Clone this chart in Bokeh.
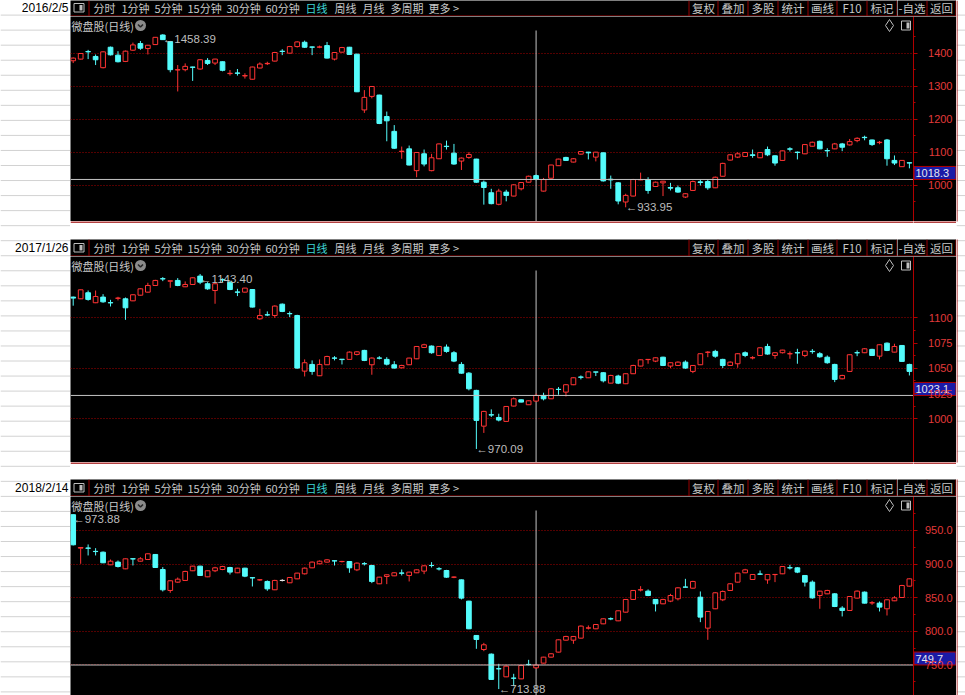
from bokeh.plotting import figure
from bokeh.layouts import row, column
from bokeh.models import Range1d, FixedTicker, Span, NumeralTickFormatter, ColumnDataSource
from bokeh.core.properties import value
from bokeh.embed import file_html
from bokeh.resources import INLINE

CJK = "Noto Sans CJK SC"
SANS = "Liberation Sans"

# ---------------- data ----------------
dates = ["2016/2/5", "2017/1/26", "2018/2/14"]
title_txt = "微盘股(日线)"

p1_o = [1378,1383,1406,1391,1357,1419,1395,1376,1410,1430,
        1415,1427,1456,1436,1350,1351,1359,1353,1379,1371,
        1375,1339,1341,1332,1322,1356,1369,1377,1407,1401,
        1421,1434,1420,1419,1424,1383,1404,1419,1398,1229,
        1270,1274,1209,1164,1103,1111,1045,1096,1045,1081,
        1119,1098,1074,1085,1080,1010,978,943,980,968,
        990,1010,1030,983,1022,1060,1085,1071,1095,1101,
        1086,1099,1019,1008,950,968,1017,1018,997,1008,
        994,993,965,985,1011,1012,993,1028,1077,1086,
        1088,1093,1084,1109,1090,1076,1111,1101,1096,1119,
        1134,1106,1111,1126,1123,1136,1146,1138,1130,1138,
        1076,1057,1069]
p1_h = [1388,1401,1411,1397,1407,1421,1407,1409,1433,1438,
        1426,1450,1458.39,1438,1365,1370,1360,1383,1386,1384,
        1376,1350,1353,1340,1360,1373,1375,1405,1413,1423,
        1437,1439,1421,1424,1435,1404,1420,1420,1399,1289,
        1301,1275,1224,1183,1118,1121,1101,1109,1096,1127,
        1136,1126,1085,1101,1081,1015,990,990,987,1004,
        1010,1030,1033,1023,1063,1081,1087,1083,1104,1102,
        1102,1100,1030,1010,975,1020,1039,1025,1012,1014,
        1008,1000,977,1015,1018,1018,1027,1069,1095,1101,
        1101,1109,1101,1118,1091,1106,1116,1103,1125,1133,
        1136,1113,1129,1129,1141,1146,1151,1139,1135,1141,
        1091,1077,1070]
p1_l = [1371,1382,1383,1365,1355,1394,1373,1374,1408,1411,
        1397,1426,1441,1343,1285,1346,1317,1351,1365,1365,
        1346,1333,1333,1324,1321,1355,1365,1376,1395,1400,
        1418,1417,1395,1416,1385,1379,1403,1396,1283,1220,
        1264,1186,1134,1111,1081,1061,1025,1058,1043,1080,
        1109,1063,1047,1081,1008,942,943,940,952,967,
        985,1009,1016,982,1021,1059,1075,1070,1093,1079,
        1073,1012,990,943,933.95,967,1016,975,996,968,
        985,978,962,984,1000,987,992,1027,1076,1083,
        1087,1084,1083,1089,1060,1075,1103,1079,1095,1118,
        1110,1087,1110,1104,1121,1131,1137,1120,1125,1060,
        1062,1056,1052]
p1_c = [1386,1400,1405,1381,1405,1396,1375,1407,1426,1416,
        1425,1449,1442,1351,1351,1361,1358,1381,1370,1383,
        1349,1340,1340,1333,1359,1368,1370,1403,1406,1421,
        1435,1419,1419,1420,1386,1403,1418,1397,1284,1267,
        1300,1188,1196,1113,1104,1062,1100,1065,1084,1126,
        1118,1065,1083,1094,1010,994,945,983,970,1002,
        1009,1028,1018.3,1018,1062,1080,1076,1081,1103,1099,
        1101,1014,1017,953,970,1018,1018,985,1010,1013,
        992,980,975,1012,1009,993,1025,1067,1093,1096,
        1100,1091,1100,1093,1068,1105,1110,1100,1124,1131,
        1111,1105,1126,1116,1133,1143,1145,1124,1131,1081,
        1068,1076,1068]

p2_o = [1120.5,1118.8,1124.8,1114.9,1120.5,1115,1119.3,1118.8,1116.8,1122.4,
        1125.4,1132,1138.7,1136.3,1137,1130.7,1133,1141.3,1133.7,1127,
        1138,1135.3,1125.6,1125.4,1128,1099,1103,1102.3,1113.5,1104.2,
        1102.3,1047.2,1053.8,1042.6,1053.5,1060.2,1059,1058.8,1063.7,1067.7,
        1053.5,1060.2,1058.8,1053.5,1050.5,1053.5,1059.4,1070.6,1072,1062.7,
        1071,1065.4,1053.8,1045.2,1028.1,992.7,1004,1001.3,997.4,1012.6,
        1018.8,1013.9,1017.5,1023.1,1019.8,1029.2,1026.4,1033.7,1041.4,1040.6,
        1046.4,1045.6,1035.3,1042.3,1034.7,1044.6,1052.2,1058.6,1057.1,1061,
        1052.2,1052.8,1056.1,1046.9,1053.5,1065.8,1066.7,1058.8,1052.8,1054.5,
        1065.4,1060.3,1062.7,1071.6,1062.7,1065.4,1064.3,1065.5,1062.7,1066.8,
        1064.4,1061,1053.8,1039.6,1046.9,1065.5,1065.4,1068.7,1062,1074.9,
        1066,1072.6,1053.8]
p2_h = [1121,1128,1127,1127,1123.4,1117.8,1120.8,1120.1,1123.1,1129.4,
        1134.7,1137.6,1140.3,1136.8,1139.3,1136,1140,1143.4,1135.3,1134,
        1139,1136,1128.7,1129.7,1128.4,1108.9,1106.3,1112.3,1114.2,1106.3,
        1103,1058.8,1057.8,1058.8,1062.4,1062,1059.2,1066.7,1067,1068.3,
        1060.8,1062,1061,1057.1,1053.5,1060.4,1072,1074.3,1072.6,1072,
        1073.6,1067,1056.1,1046.2,1028.7,1007.9,1009.3,1005,1012.6,1021.1,
        1019.2,1018.2,1024.8,1025.8,1030.4,1031.4,1034.3,1041,1042.9,1046.9,
        1046.5,1046.2,1043.6,1043.6,1044.9,1053.5,1058.8,1059,1060.8,1061.4,
        1055.8,1056.8,1057.8,1053.2,1064.7,1067,1068.3,1059.4,1056.8,1065.1,
        1066.7,1062,1070.6,1074.3,1065.7,1068.3,1066.7,1069.3,1067.3,1069,
        1066,1062.7,1054.5,1043.6,1063.7,1067.7,1070,1069.3,1073.6,1075.6,
        1074.3,1072.9,1054.5]
p2_l = [1112,1118.5,1117,1114.5,1114.9,1111.2,1117.2,1098,1116.5,1122,
        1125,1131.7,1136.3,1129.7,1131.3,1130.4,1132.7,1133.3,1127.7,1113.9,
        1135.3,1127.4,1121.5,1125,1110.2,1098,1101.7,1100,1105.6,1100.7,
        1049.5,1041.9,1043.6,1042.3,1053.2,1057.8,1053.8,1058.5,1062.7,1057.1,
        1043.6,1058.8,1052.8,1049.8,1049.8,1053.2,1059,1070,1064.4,1062.4,
        1065.4,1056.1,1044.6,1028.1,970.09,986,1001.7,997.4,997,1012.2,
        1016.2,1013.6,1017.2,1018.2,1019.5,1023.8,1022.1,1033.3,1039,1040.3,
        1042.3,1036,1035,1034.3,1034.3,1044.3,1051.9,1054.5,1056.1,1052.2,
        1050.2,1052.5,1049.5,1045.2,1053.2,1061,1060.4,1050.2,1052.5,1050.5,
        1061,1058.8,1062.4,1063.4,1059.4,1064.7,1059.4,1054.5,1061,1064.4,
        1060.4,1054.5,1036.3,1039,1046.6,1062,1065,1062.4,1058.8,1067,
        1065.7,1056.5,1042.9]
p2_c = [1119.5,1127.7,1118.2,1121.1,1115.8,1114.8,1119.5,1109.9,1122.8,1128.7,
        1132,1137,1138.5,1136.6,1132,1133,1139.6,1135.3,1128.7,1133.7,
        1137.5,1128,1125.3,1129.4,1110.6,1102.3,1102.8,1111.6,1106.3,1104,
        1050.2,1055.5,1046.9,1053.8,1061.7,1060,1058.6,1066,1066.3,1057.8,
        1060.1,1060,1054.1,1050.2,1052.8,1060.1,1071.6,1073.3,1065.4,1071.6,
        1066.7,1057.1,1045.2,1029.7,998.4,1007.3,1003.7,998.7,1012.2,1019.8,
        1016.5,1017.8,1023.1,1019.8,1029.7,1029,1033.7,1040.6,1041.1,1046.5,
        1046.2,1037.6,1042.9,1035.3,1044.6,1052.8,1058.4,1058.8,1060.4,1052.8,
        1055.5,1056.1,1050.2,1052.8,1064.4,1066,1062,1052.8,1056.1,1064.4,
        1062.7,1060.5,1070.3,1064.1,1065.4,1068,1064.5,1065.2,1067,1066.5,
        1061.4,1055.5,1039,1042.9,1063.4,1065.3,1069.3,1062.7,1073.3,1067.7,
        1071.6,1056.8,1046.9]

p3_o = [973.5,923.7,923.9,918.9,917.7,898.9,902.9,892.9,907.9,904.3,
        906.8,914.3,891.9,860.7,873.1,875.6,890,896.9,881,890,
        891.9,894.9,887,893.9,879.7,876.4,874.1,861.7,875.6,872.1,
        878,885.5,894.4,900.4,902.9,904.9,903.7,903.8,891.4,900.6,
        897.9,870.6,881.5,882.5,886.7,883,887,889.5,898,893,
        890.4,880.4,876.5,844.8,793.7,772.8,765.9,744.2,732.1,730.2,
        729.1,750.6,745.5,752.5,761.4,768.9,786.7,786.7,789.7,804.7,
        803.6,811,818.6,815.5,828.4,847.3,861.4,859.7,847.3,840.8,
        844.8,848.3,865.8,864.1,850.7,804.6,833.4,846.8,860.7,873.1,
        887,877,885.2,876.5,884.3,885.5,894.6,894.4,883,873.1,
        853.2,855.7,855.7,834.4,830.9,849.3,858.2,842.2,841.8,833.4,
        845.3,850.2,867.1]
p3_h = [973.88,925.2,929.2,923.7,918.7,906.8,905.3,908.3,908,910.3,
        915.8,914.8,895.4,875.6,880,890,897.4,897.4,890.5,895.9,
        897.4,895.9,894.4,894.4,880,877.5,875.6,876.6,877.5,880.5,
        887,894.9,903.8,905.3,907.3,905,904.8,904.3,902.4,902.9,
        898.9,881,884.5,887.5,891.9,888.5,891.9,897.9,902.9,895.4,
        891.4,881.5,877,845.3,794.2,782.7,766.9,751.5,749,736.6,
        750,757.4,750.5,761.9,767.4,787.7,793.2,792.7,808.6,808.6,
        810.5,819,820.5,830.9,847.8,861.2,867.1,862.2,847.8,848.3,
        855.7,865.6,878,875.1,859.2,829.9,858.2,860.7,871.6,887,
        892.9,885,890.4,885,884.8,896.9,898.9,895.4,883.5,875.6,
        860.2,861.7,856.7,837.3,852.2,860.7,859.2,844.8,844.3,847.3,
        852.2,869.1,878.5]
p3_l = [927.7,900.4,912.8,912.8,901.4,898.4,894.9,892.4,897.9,903.8,
        906.3,894.4,859.2,857.2,872.1,875.1,889.5,882.5,880.5,888,
        890.9,884.5,886.5,880.5,866.6,875.1,860.2,861.2,874.1,871.6,
        877.5,884.5,893.9,899.9,902.4,897.9,902.4,887,889.5,897.9,
        871.6,870.1,870.1,882,883,874.1,886.5,885,894.9,890.4,
        879.5,879,847.3,803.1,773.8,770.3,727.7,713.88,731.6,718.2,
        728.6,749,744,752,760.9,768.4,786.2,781.3,789.2,802.6,
        803.1,810.5,816.5,815,827.9,846.8,859.2,852.2,829.4,840.3,
        843.3,845.8,865.5,863.6,813.5,787.2,832.9,844.8,860.2,872.6,
        886.5,876.5,884,870.6,873.1,885,891.9,886.5,866.6,848.3,
        833.4,855.2,835.9,822,830.4,848.8,841.3,839.3,829.4,823.4,
        844.8,849.7,866.6]
p3_c = [928.7,924.7,923.5,918.6,901.9,904.3,896.4,907.8,907.6,907.8,
        915.3,894.9,861.7,875.1,877.5,889,896.9,883,890,894.4,
        896.4,888,893.9,882,879.4,876.6,863.1,875.6,875.6,880,
        886.5,893.9,902.9,904.3,906.3,904.6,903.9,894.4,901.4,900.4,
        874.1,880.5,884,887,886.4,888,891.4,897.4,897.8,892.8,
        880.5,880.6,849.3,803.6,787.7,779.8,728.2,744,748,730,
        749,750.3,749.7,761.4,766.4,787.2,792.2,792.2,807.6,804.9,
        810,818.5,818.4,830.4,847.3,860.7,861.8,853.2,840.8,847.3,
        853.2,864.6,865.6,874.1,821,829.4,857.2,859.2,870.6,886.5,
        891.4,884.5,884.9,884.5,884.6,896.4,894.3,888,873.1,849.7,
        859.7,860.7,836.8,830.9,851.7,859.7,841.8,842.4,835.9,846.8,
        849.7,868.1,878]

# cross-hair bar and its price, high/low marks
cross_idx = 62
cross_vals = [1018.3, 1023.1, 749.7]
cross_txts = ["1018.3", "1023.1", "749.7"]
hi_marks = [(12, 1458.39, "1458.39"), (17, 1143.40, "1143.40"), (0, 973.88, "973.88")]
lo_marks = [(74, 933.95, "933.95"), (54, 970.09, "970.09"), (57, 713.88, "713.88")]

# axis ticks
p1_major = [1000, 1100, 1200, 1300, 1400]
p1_minor = [950, 1050, 1150, 1250, 1350, 1450]
p1_grid = [1000, 1100, 1200, 1300, 1400]
p2_major = [1000, 1025, 1050, 1075, 1100]
p2_minor = [1012.5, 1037.5, 1062.5, 1087.5]
p2_grid = [1000, 1050, 1100]
p3_major = [750, 800, 850, 900, 950]
p3_minor = [725, 775, 825, 875, 925, 975]
p3_grid = [750, 800, 850, 900, 950]

# toolbar: (text, left x) on the left, centred cells on the right
tb_left_items = [("分时", 93), ("1分钟", 121), ("5分钟", 154), ("15分钟", 187),
                 ("30分钟", 226), ("60分钟", 265), ("日线", 305), ("周线", 334),
                 ("月线", 362), ("多周期", 390), ("更多 >", 428)]
tb_right_items = ["复权", "叠加", "多股", "统计", "画线", "F10", "标记", "-自选", "返回"]
tb_right_seps = [688, 717, 747, 777, 807, 836, 866, 896, 926, 955]

# ---------------- style ----------------
UP = "#ff3434"
DN = "#54fcfc"
EQ = "#e8e8e8"
SEP = "#9a0000"
GRID = "#a80000"
AXC = "#b00000"
AXT = "#e23a3a"
TXT = "#c8c8c8"
CROSS = "#c4c4c4"
SHEET = "#d2d2d2"

LEFT_W = 70
FRAME_W = 843
RIGHT_W = 43
MAIN_W = FRAME_W + RIGHT_W      # 70 .. 956
EDGE_W = 965 - LEFT_W - MAIN_W  # 956 .. 965
TB_SPLIT = 897
TOTAL_H = 695
PPX = 7.466
X0 = -2.7 / PPX
X1 = X0 + FRAME_W / PPX
panel_spans = [(0, 221), (239, 462), (479, 695)]


def plain(width, height, xr, yr, bg):
    f = figure(width=width, height=height, x_range=Range1d(*xr), y_range=Range1d(*yr),
               output_backend="svg", toolbar_location=None, x_axis_location=None, y_axis_location=None,
               min_border=0, background_fill_color=bg, border_fill_color=bg, outline_line_color=None)
    f.xgrid.visible = False
    f.ygrid.visible = False
    return f


def draw_toolbar(t, H, lo, hi):
    ly = H - 0.5
    ty = H - 8.5
    t.segment(x0=[70], x1=[956], y0=[ly], y1=[ly], line_color=SEP, line_width=1)
    seps = [s for s in [88.5] + [s + 0.5 for s in tb_right_seps] if lo <= s <= hi]
    t.segment(x0=seps, x1=seps, y0=[0] * len(seps), y1=[ly] * len(seps), line_color=SEP, line_width=1)
    if lo < 100:
        t.quad(left=[73.5], right=[83.5], top=[ty - 4.5], bottom=[ty + 4], fill_color=None,
               line_color="#bdbdbd", line_width=1)
        t.quad(left=[79], right=[82], top=[ty - 3], bottom=[ty + 2.5], fill_color="#bdbdbd",
               line_color=None)
        cols = ["#3fd4d4" if s == "日线" else TXT for s, _ in tb_left_items]
        t.text(x=[xx for _, xx in tb_left_items], y=[ty] * len(tb_left_items),
               text=[s for s, _ in tb_left_items], text_color=cols, text_font=value(CJK),
               text_font_size="11px", text_baseline="middle", text_align="left")
    cx_all = [(a + b) / 2 + 0.5 for a, b in zip(tb_right_seps[:-1], tb_right_seps[1:])]
    sel = [(x, s) for x, s in zip(cx_all, tb_right_items) if lo <= x < hi]
    t.text(x=[x for x, _ in sel], y=[ty] * len(sel), text=[s for _, s in sel], text_color=TXT,
           text_font=value(CJK), text_font_size="11.5px", text_baseline="middle", text_align="center")


def make_toolbar(H):
    a = plain(TB_SPLIT - 70, H, (70, TB_SPLIT), (H, 0), "black")
    b = plain(956 - TB_SPLIT, H, (TB_SPLIT, 956), (H, 0), "black")
    draw_toolbar(a, H, 70, TB_SPLIT)
    draw_toolbar(b, H, TB_SPLIT, 956)
    return row(a, b)


def make_gap(H):
    a = plain(FRAME_W, H, (70, 913), (H, 0), "white")
    b = plain(RIGHT_W, H, (913, 956), (H, 0), "white")
    for g in (a, b):
        g.segment(x0=[70], x1=[956], y0=[0.5], y1=[0.5], line_color=SEP, line_width=1.5)
    return row(a, b)


def make_panel(o, h, l, c, ylo, yhi, H, major, minor, grid, fmt, k):
    yr = Range1d(ylo, yhi)
    p = figure(width=FRAME_W, height=H, x_range=Range1d(X0, X1), y_range=yr,
               output_backend="svg", toolbar_location=None, x_axis_location=None,
               y_axis_location=None, background_fill_color="black", border_fill_color="black",
               outline_line_color=None, min_border=0)
    p.xgrid.visible = False
    p.ygrid.ticker = FixedTicker(ticks=grid)
    p.ygrid.grid_line_color = GRID
    p.ygrid.grid_line_dash = "1 2"
    p.ygrid.grid_line_width = 1

    def X(absx):
        return X0 + (absx - 70) / PPX

    def Y(py):
        return yhi - py * (yhi - ylo) / H

    py_per = (yhi - ylo) / H

    # crosshair
    cv = cross_vals[k]
    p.add_layout(Span(location=cv, dimension="width", line_color=CROSS, line_width=1))
    p.segment(x0=[cross_idx], x1=[cross_idx], y0=[ylo], y1=[Y(14)], line_color=CROSS, line_width=1)

    # candles
    n = len(o)
    top = [max(a, b) for a, b in zip(o, c)]
    bot = [min(a, b) for a, b in zip(o, c)]
    col = [UP if cc > oo else (DN if cc < oo else EQ) for oo, cc in zip(o, c)]
    fill = ["#000000" if cc > oo else (DN if cc < oo else EQ) for oo, cc in zip(o, c)]
    src = ColumnDataSource(dict(x=list(range(n)), h=h, l=l, top=top, bot=bot, col=col, fill=fill))
    p.segment(x0="x", y0="l", x1="x", y1="h", line_color="col", line_width=1, source=src)
    p.vbar(x="x", width=0.63, top="top", bottom="bot", fill_color="fill", line_color="col",
           line_width=1, source=src)

    # high / low marks
    hi_i, hi_v, hi_t = hi_marks[k]
    lo_i, lo_v, lo_t = lo_marks[k]
    p.text(x=[hi_i, lo_i], y=[hi_v - 5 * py_per, lo_v], text=["\u2190" + hi_t, "\u2190" + lo_t],
           text_color="#bdbdbd", text_font=value(SANS), text_font_size="11.5px",
           text_baseline="middle", text_align="left")

    # panel title & icons
    p.text(x=[X(71)], y=[Y(9)], text=[title_txt], text_color=TXT, text_font=value(CJK),
           text_font_size="11px", text_baseline="middle", text_align="left")
    p.scatter(x=[X(140)], y=[Y(9)], marker="circle", size=11, fill_color="#8c8c8c", line_color=None)
    p.line(x=[X(137.5), X(140), X(142.5)], y=[Y(8), Y(10.5), Y(8)], line_color="#262626", line_width=1.6)
    p.scatter(x=[X(889)], y=[Y(9)], marker="diamond", size=12, fill_color=None, line_color="#c0c0c0",
              line_width=1)
    p.quad(left=[X(901)], right=[X(910)], top=[Y(4.5)], bottom=[Y(13.5)], fill_color=None,
           line_color="#c0c0c0", line_width=1)
    p.quad(left=[X(906)], right=[X(909)], top=[Y(6)], bottom=[Y(12)], fill_color="#c0c0c0",
           line_color=None)

    # price-axis strip (913..956) sharing the price range; its axis line sits at 913
    a = figure(width=RIGHT_W, height=H, x_range=Range1d(913, 956), y_range=yr,
               output_backend="svg", toolbar_location=None, x_axis_location=None,
               y_axis_location="left", background_fill_color="black", border_fill_color="black",
               outline_line_color=None, min_border=0)
    a.xgrid.visible = False
    a.ygrid.visible = False
    ax = a.yaxis[0]
    ax.ticker = FixedTicker(ticks=major, minor_ticks=minor)
    ax.formatter = NumeralTickFormatter(format=fmt)
    ax.axis_line_color = AXC
    ax.major_tick_line_color = AXC
    ax.major_tick_in = 4
    ax.major_tick_out = 0
    ax.minor_tick_line_color = AXC
    ax.minor_tick_in = 2
    ax.minor_tick_out = 0
    ax.major_label_text_color = AXT
    ax.major_label_text_font = SANS
    ax.major_label_text_font_size = "11px"
    ax.major_label_standoff = -39
    # crosshair price box
    a.quad(left=[913.5], right=[955.5], bottom=[cv], top=[cv + 13 * py_per], fill_color="#1a1aa6",
           line_color="#b00000", line_width=1)
    a.text(x=[915], y=[cv + 6.5 * py_per], text=[cross_txts[k]], text_color="#e6e6f0",
           text_font=value(SANS), text_font_size="11px", text_baseline="middle", text_align="left")
    return row(p, a)


# ---------------- layout ----------------
sheet_ys = []
yy = 14.6
while yy < TOTAL_H:
    sheet_ys.append(yy)
    yy += 15.04

left = plain(LEFT_W, TOTAL_H, (0, LEFT_W), (TOTAL_H, 0), "white")
left.segment(x0=[0] * len(sheet_ys), x1=[LEFT_W] * len(sheet_ys), y0=sheet_ys, y1=sheet_ys,
             line_color=SHEET, line_width=1)
left.text(x=[68, 68, 68], y=[7.5, 247, 487.5], text=dates, text_color="black", text_font=value(SANS),
          text_font_size="12px", text_baseline="middle", text_align="right")

edge = plain(EDGE_W, TOTAL_H, (956, 965), (TOTAL_H, 0), "white")
edge.segment(x0=[956] * len(sheet_ys), x1=[965] * len(sheet_ys), y0=sheet_ys, y1=sheet_ys,
             line_color=SHEET, line_width=1)
edge.segment(x0=[956.5] * 3, x1=[956.5] * 3, y0=[a for a, _ in panel_spans], y1=[b for _, b in panel_spans],
             line_color=SEP, line_width=1)

tb1 = make_toolbar(16)
m1 = make_panel(p1_o, p1_h, p1_l, p1_c, 890.9, 1512.1, 205, p1_major, p1_minor, p1_grid, "0", 0)
g1 = make_gap(18)
tb2 = make_toolbar(17)
m2 = make_panel(p2_o, p2_h, p2_l, p2_c, 956.7, 1160.7, 206, p2_major, p2_minor, p2_grid, "0", 1)
g2 = make_gap(17)
tb3 = make_toolbar(17)
m3 = make_panel(p3_o, p3_h, p3_l, p3_c, 704.3, 1000.6, 199, p3_major, p3_minor, p3_grid, "0.0", 2)

layout = row(left, column(tb1, m1, g1, tb2, m2, g2, tb3, m3), edge)

open("out.html", "w").write(file_html(layout, INLINE))
